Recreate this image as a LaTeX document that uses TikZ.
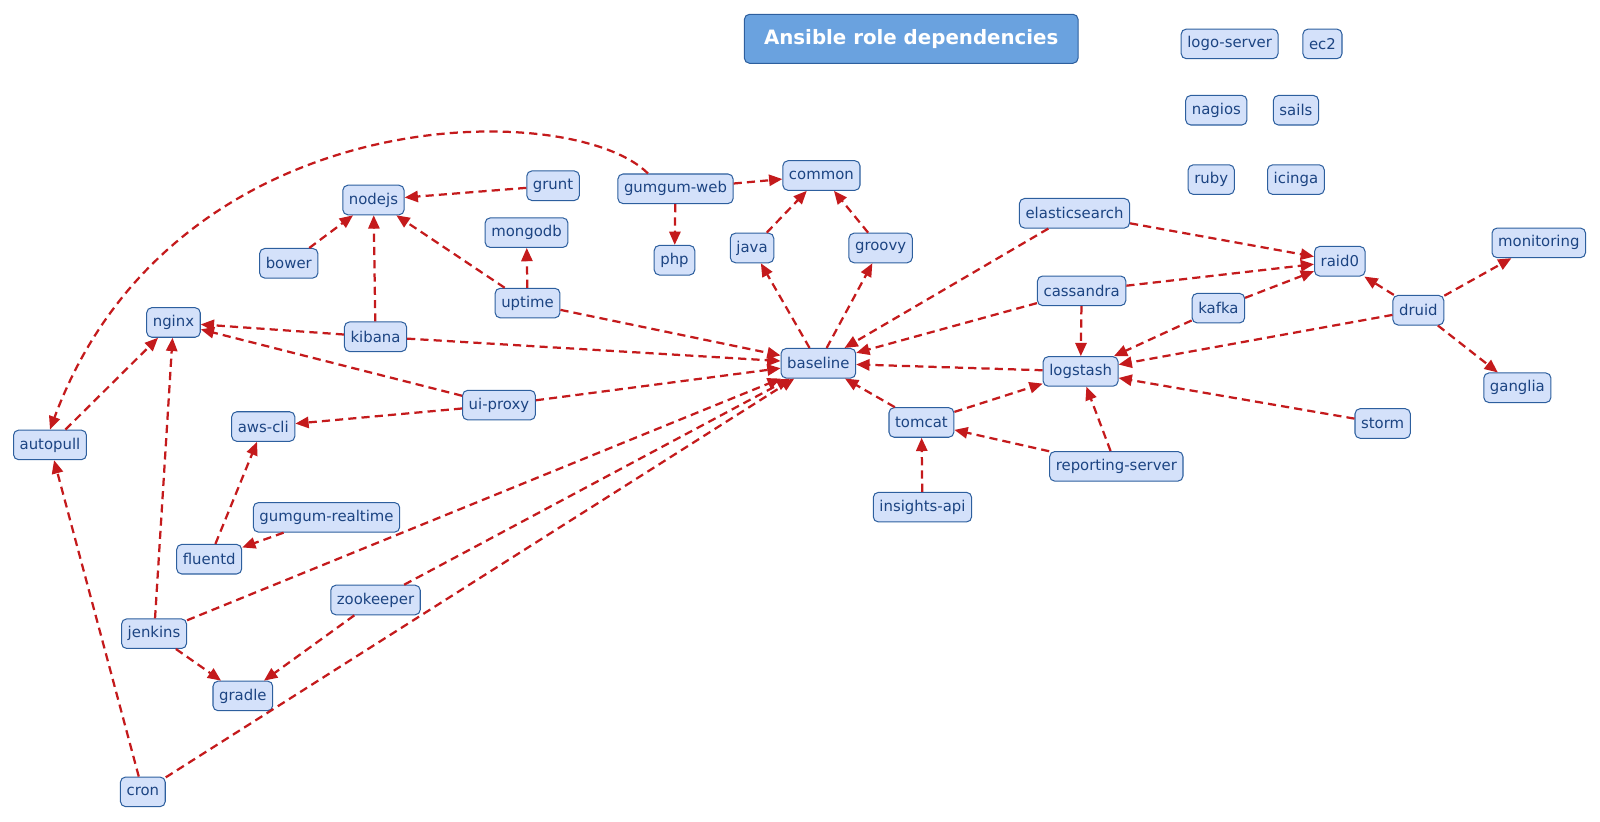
\documentclass[tikz,border=0pt]{standalone}
\usepackage{fontspec}
\setmainfont{DejaVu Sans}
\usepackage{xcolor}
\usepackage{tikz}
\usetikzlibrary{arrows.meta, positioning}
\definecolor{rolefill}{RGB}{212,225,250}
\definecolor{roleline}{RGB}{45,95,158}
\definecolor{roletext}{RGB}{28,68,130}
\definecolor{depred}{RGB}{196,26,28}
\definecolor{titlefill}{RGB}{106,162,223}
\tikzset{
    role/.style={rectangle, rounded corners=2.5pt, draw=roleline, fill=rolefill, line width=0.5pt,
                 text=roletext, font=\fontsize{7.3}{8}\selectfont, minimum height=14.5pt,
                 inner xsep=3pt, inner ysep=0pt},
    titlebox/.style={rectangle, rounded corners=2.5pt, draw=roleline, fill=titlefill, line width=0.5pt,
                     text=white, font=\fontsize{9.7}{11}\selectfont\bfseries,
                     minimum width=163.5pt, minimum height=24pt},
    dep/.style={line width=1.1pt, depred, dash pattern=on 4pt off 2.5pt,
                -{Triangle[length=6.5pt,width=5.5pt]}}
}

\begin{document}
\begin{tikzpicture}[x=0.5pt, y=-0.5pt]
    \useasboundingbox (0,0) rectangle (1568,805);

    % Title
    \node[titlebox] (title) at (893,38) {Ansible role dependencies};

    % Roles without dependencies
    \node[role] (logoserver) at (1205,43) {logo-server};
    \node[role] (ectwo) at (1296,43) {ec2};
    \node[role] (nagios) at (1192,108) {nagios};
    \node[role] (sails) at (1270,108) {sails};
    \node[role] (ruby) at (1187,176) {ruby};
    \node[role] (icinga) at (1270,176) {icinga};

    % Roles
    \node[role] (common) at (805,172) {common};
    \node[role] (gumgumweb) at (662,185) {gumgum-web};
    \node[role] (grunt) at (542,182) {grunt};
    \node[role] (nodejs) at (366,196) {nodejs};
    \node[role] (mongodb) at (516,228) {mongodb};
    \node[role] (php) at (661,255) {php};
    \node[role] (java) at (737,243) {java};
    \node[role] (groovy) at (863,243) {groovy};
    \node[role] (elasticsearch) at (1053,209) {elasticsearch};
    \node[role] (bower) at (283,258) {bower};
    \node[role] (raidzero) at (1313,256) {raid0};
    \node[role] (monitoring) at (1508,238) {monitoring};
    \node[role] (cassandra) at (1060,285) {cassandra};
    \node[role] (uptime) at (517,297) {uptime};
    \node[role] (kafka) at (1194,302) {kafka};
    \node[role] (druid) at (1390,304) {druid};
    \node[role] (nginx) at (170,316) {nginx};
    \node[role] (kibana) at (368,330) {kibana};
    \node[role] (baseline) at (802,356) {baseline};
    \node[role] (logstash) at (1059,364) {logstash};
    \node[role] (ganglia) at (1487,380) {ganglia};
    \node[role] (uiproxy) at (489,397) {ui-proxy};
    \node[role] (awscli) at (258,418) {aws-cli};
    \node[role] (tomcat) at (903,414) {tomcat};
    \node[role] (storm) at (1355,415) {storm};
    \node[role] (autopull) at (49,436) {autopull};
    \node[role] (reportingserver) at (1094,457) {reporting-server};
    \node[role] (insightsapi) at (904,497) {insights-api};
    \node[role] (gumgumrealtime) at (320,507) {gumgum-realtime};
    \node[role] (fluentd) at (205,548) {fluentd};
    \node[role] (zookeeper) at (368,588) {zookeeper};
    \node[role] (jenkins) at (151,621) {jenkins};
    \node[role] (gradle) at (238,682) {gradle};
    \node[role] (cron) at (140,776) {cron};

    % Dependencies
    \draw[dep] (gumgumweb) -- (common);
    \draw[dep] (gumgumweb) -- (php);
    \draw[dep] (gumgumweb.north west) ++(30,0) .. controls (560,95) and (170,95) .. (autopull.north);
    \draw[dep] (grunt) -- (nodejs);
    \draw[dep] (bower) -- (nodejs);
    \draw[dep] (kibana) -- (nodejs);
    \draw[dep] (uptime) -- (nodejs);
    \draw[dep] (uptime) -- (mongodb);
    \draw[dep] (uptime) -- (baseline);
    \draw[dep] (java) -- (common);
    \draw[dep] (groovy) -- (common);
    \draw[dep] (baseline) -- (java);
    \draw[dep] (baseline) -- (groovy);
    \draw[dep] (elasticsearch) -- (baseline);
    \draw[dep] (elasticsearch) -- (raidzero);
    \draw[dep] (cassandra) -- (baseline);
    \draw[dep] (cassandra) -- (raidzero);
    \draw[dep] (cassandra) -- (logstash);
    \draw[dep] (kafka) -- (raidzero);
    \draw[dep] (kafka) -- (logstash);
    \draw[dep] (druid) -- (raidzero);
    \draw[dep] (druid) -- (monitoring);
    \draw[dep] (druid) -- (ganglia);
    \draw[dep] (druid) -- (logstash);
    \draw[dep] (logstash) -- (baseline);
    \draw[dep] (storm) -- (logstash);
    \draw[dep] (tomcat) -- (baseline);
    \draw[dep] (tomcat) -- (logstash);
    \draw[dep] (reportingserver) -- (tomcat);
    \draw[dep] (reportingserver) -- (logstash);
    \draw[dep] (insightsapi) -- (tomcat);
    \draw[dep] (kibana) -- (nginx);
    \draw[dep] (kibana) -- (baseline);
    \draw[dep] (uiproxy) -- (nginx);
    \draw[dep] (uiproxy) -- (baseline);
    \draw[dep] (uiproxy) -- (awscli);
    \draw[dep] (autopull) -- (nginx);
    \draw[dep] (jenkins) -- (nginx);
    \draw[dep] (jenkins) -- (baseline);
    \draw[dep] (jenkins) -- (gradle);
    \draw[dep] (fluentd) -- (awscli);
    \draw[dep] (gumgumrealtime) -- (fluentd);
    \draw[dep] (zookeeper) -- (baseline);
    \draw[dep] (zookeeper) -- (gradle);
    \draw[dep] (cron) -- (baseline);
    \draw[dep] (cron) -- (autopull);
\end{tikzpicture}
\end{document}
